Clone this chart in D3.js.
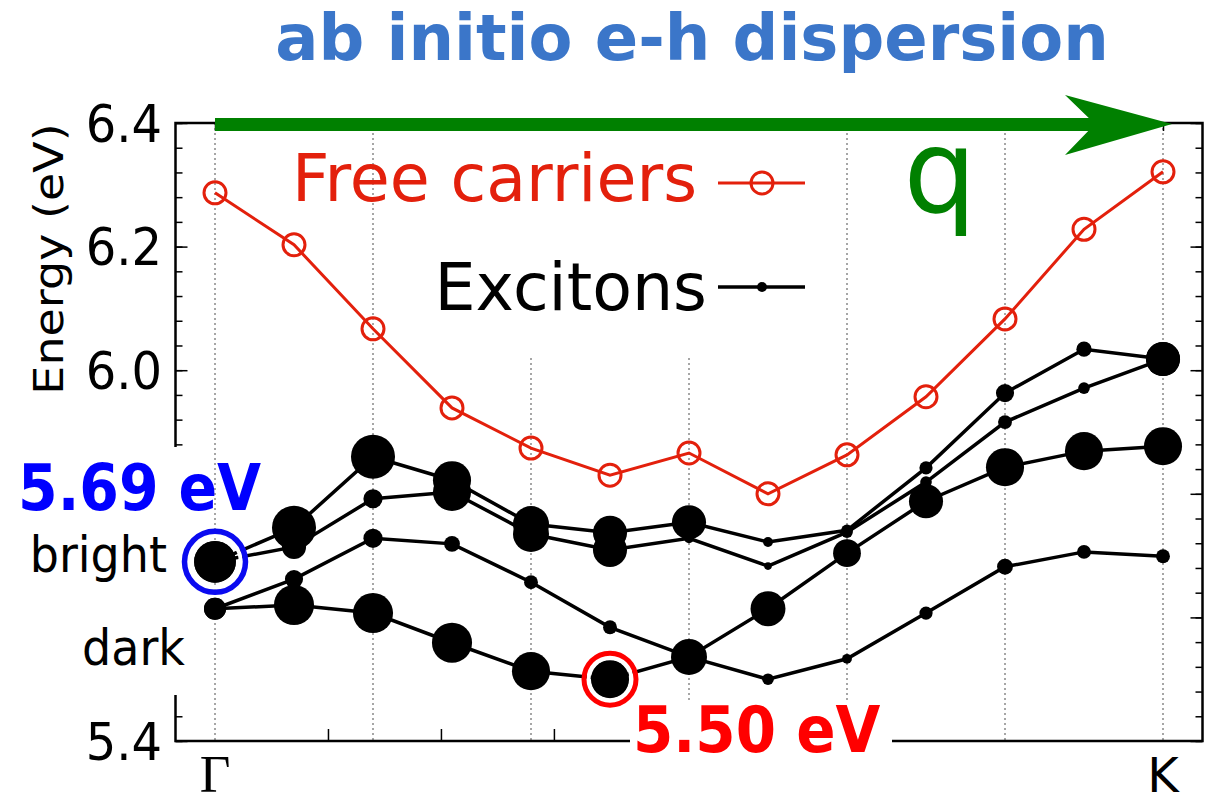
<!DOCTYPE html>
<html>
<head>
<meta charset="utf-8">
<script src="https://cdn.jsdelivr.net/npm/d3@7"></script>
<style>
  body { margin: 0; background: #fff; }
  svg { display: block; }
  text { font-family: "DejaVu Sans", sans-serif; }
</style>
</head>
<body>
<svg id="chart" width="1207" height="804"></svg>
<script>
// Momentum points along Γ → K (index of the q-point)
const qPoints = d3.range(13);

// Free electron-hole pair energies (eV)
const freeCarriers = [6.287, 6.203, 6.067, 5.939, 5.874, 5.830, 5.866, 5.800, 5.863, 5.957, 6.083, 6.228, 6.321];

// Exciton bands (eV) and their relative oscillator strengths (0..1)
const band1 = [5.69, 5.745, 5.860, 5.822, 5.751, 5.737, 5.754, 5.722, 5.741, 5.842, 5.963, 6.034, 6.018];
const band1Strength = [0.90, 1.00, 1.00, 0.75, 0.67, 0.60, 0.60, 0.05, 0.07, 0.09, 0.17, 0.12, 0.60];
const band2 = [5.69, 5.714, 5.792, 5.803, 5.735, 5.709, 5.728, 5.683, 5.738, 5.819, 5.916, 5.971, 6.018];
const band2Strength = [0.90, 0.30, 0.19, 0.75, 0.67, 0.60, 0.05, 0.03, 0.07, 0.07, 0.10, 0.07, 0.60];
const band3 = [5.614, 5.662, 5.728, 5.719, 5.657, 5.584, 5.536, 5.500, 5.533, 5.607, 5.682, 5.706, 5.699];
const band3Strength = [0.25, 0.17, 0.19, 0.13, 0.10, 0.10, 0.05, 0.07, 0.05, 0.09, 0.13, 0.10, 0.10];
const band4 = [5.614, 5.620, 5.607, 5.559, 5.513, 5.50, 5.536, 5.614, 5.704, 5.788, 5.843, 5.869, 5.877];
const band4Strength = [0.25, 0.83, 0.83, 0.83, 0.75, 0.75, 0.67, 0.63, 0.40, 0.60, 0.75, 0.75, 0.75];

// Axis ticks
const yMajorTicks = [5.4, 5.6, 5.8, 6.0, 6.2, 6.4];
const yTickLabels = [6.4, 6.2, 6.0, 5.4];
const yMinorTicks = d3.range(5.4, 6.401, 0.04).map(v => +v.toFixed(2));
const gridPoints = [0, 2, 4, 6, 8, 10, 12];
const bottomTicks = [1.43, 2.86, 4.29];
const xTickLabels = [{ q: 0, label: "Γ" }, { q: 12, label: "K" }];

// Highlighted states
const brightState = { q: 0, energy: band1[0], label: "5.69 eV" };
const darkState = { q: 5, energy: band4[5], label: "5.50 eV" };

const svg = d3.select("#chart");

const x = d3.scaleLinear().domain([-0.5, 12.5]).range([175.5, 1202.5]);
const y = d3.scaleLinear().domain([5.4, 6.4]).range([741, 123]);
const r = d3.scaleSqrt().domain([0, 1]).range([0, 22]);

const [x0, x1] = x.range();
const [yb, yt] = y.range();
const legendBottom = 358;
const legendLeft = 450, legendRight = 815;

// Dotted vertical grid (interrupted under the legend)
svg.append("g").selectAll("line").data(gridPoints).join("line")
  .attr("x1", d => x(d)).attr("x2", d => x(d))
  .attr("y1", d => (x(d) > legendLeft && x(d) < legendRight) ? legendBottom : yt)
  .attr("y2", yb)
  .attr("stroke", "#777").attr("stroke-width", 1.3)
  .attr("stroke-dasharray", "2,3");

// Axes: left / right with inward ticks
function yAxis(gen, size, tx) {
  const g = svg.append("g").attr("transform", `translate(${tx},0)`)
    .call(gen.tickSize(size).tickFormat(""));
  g.select(".domain").remove();
  g.selectAll(".tick line").attr("stroke", "#000").attr("stroke-width", 1.5);
  return g;
}
yAxis(d3.axisLeft(y).tickValues(yMinorTicks), -7, x0);
yAxis(d3.axisLeft(y).tickValues(yMajorTicks), -12, x0);
yAxis(d3.axisRight(y).tickValues(yMinorTicks), -7, x1);
yAxis(d3.axisRight(y).tickValues(yMajorTicks), -12, x1);

// Top ticks at the grid points, bottom ticks along q
const topAx = svg.append("g").attr("transform", `translate(0,${yt})`)
  .call(d3.axisTop(x).tickValues(gridPoints).tickSize(-8).tickFormat(""));
topAx.select(".domain").remove();
topAx.selectAll(".tick line").attr("stroke", "#000").attr("stroke-width", 1.5);
const botAx = svg.append("g").attr("transform", `translate(0,${yb})`)
  .call(d3.axisBottom(x).tickValues(bottomTicks).tickSize(-12).tickFormat(""));
botAx.select(".domain").remove();
botAx.selectAll(".tick line").attr("stroke", "#000").attr("stroke-width", 1.5);

// Frame
svg.append("rect").attr("x", x0).attr("y", yt).attr("width", x1 - x0).attr("height", yb - yt)
  .attr("fill", "none").attr("stroke", "#000").attr("stroke-width", 2.5);

// Masks where labels sit over the axes
svg.append("rect").attr("x", 150).attr("y", 447).attr("width", 40).attr("height", 248).attr("fill", "#fff");
svg.append("rect").attr("x", 630).attr("y", 700).attr("width", 262).attr("height", 66).attr("fill", "#fff");

// Tick labels
svg.append("g").selectAll("text").data(yTickLabels).join("text")
  .attr("transform", d => `translate(162,${y(d)}) scale(1,1.08)`)
  .attr("text-anchor", "end").attr("dy", "0.36em")
  .attr("font-size", 48).text(d => d.toFixed(1));

svg.append("g").selectAll("text").data(xTickLabels).join("text")
  .attr("x", d => x(d.q)).attr("y", 792).attr("text-anchor", "middle")
  .attr("font-size", d => d.label === "Γ" ? 53 : 48)
  .style("font-family", d => d.label === "Γ" ? "'Liberation Serif', serif" : null)
  .text(d => d.label);

svg.append("text")
  .attr("transform", "translate(63,259) rotate(-90) scale(1.15,1)")
  .attr("text-anchor", "middle").attr("font-size", 40).text("Energy (eV)");

// Free carriers
const line = d3.line().x((d, i) => x(qPoints[i])).y(d => y(d));
const red = "#e3200c";
svg.append("path").datum(freeCarriers).attr("d", line)
  .attr("fill", "none").attr("stroke", red).attr("stroke-width", 3);
svg.append("g").selectAll("circle").data(freeCarriers).join("circle")
  .attr("cx", (d, i) => x(qPoints[i])).attr("cy", d => y(d)).attr("r", 11)
  .attr("fill", "none").attr("stroke", red).attr("stroke-width", 3);

// Exciton bands
const bands = [
  { e: band1, s: band1Strength },
  { e: band2, s: band2Strength },
  { e: band3, s: band3Strength },
  { e: band4, s: band4Strength }
];
bands.forEach(b => {
  svg.append("path").datum(b.e).attr("d", line)
    .attr("fill", "none").attr("stroke", "#000").attr("stroke-width", 3.5);
});
bands.forEach(b => {
  svg.append("g").selectAll("circle").data(b.e).join("circle")
    .attr("cx", (d, i) => x(qPoints[i])).attr("cy", d => y(d))
    .attr("r", (d, i) => r(b.s[i])).attr("fill", "#000");
});

// Highlight rings
function ring(state, color, rad, width) {
  const cx = x(state.q), cy = y(state.energy);
  svg.append("circle").attr("cx", cx).attr("cy", cy)
    .attr("r", rad - width / 2 - 2).attr("fill", "none").attr("stroke", "#fff").attr("stroke-width", 4);
  svg.append("circle").attr("cx", cx).attr("cy", cy)
    .attr("r", rad).attr("fill", "none").attr("stroke", color).attr("stroke-width", width);
}
ring(brightState, "#0a0af0", 30.5, 5.5);
ring(darkState, "#ff0000", 26, 5);

// Annotations
svg.append("text").attr("transform", "translate(18,510) scale(1,1.12)")
  .attr("font-size", 57).attr("font-weight", "bold").attr("fill", "#0000ff")
  .text(brightState.label);
svg.append("text").attr("transform", "translate(167,572) scale(1,1.08)")
  .attr("text-anchor", "end").attr("font-size", 46).text("bright");
svg.append("text").attr("transform", "translate(185,665) scale(1,1.08)")
  .attr("text-anchor", "end").attr("font-size", 46).text("dark");
svg.append("text").attr("transform", "translate(633,752) scale(1,1.12)")
  .attr("font-size", 58).attr("font-weight", "bold").attr("fill", "#ff0000")
  .text(darkState.label);

// Title
svg.append("text").attr("x", 692).attr("y", 60).attr("text-anchor", "middle")
  .attr("font-size", 64).attr("font-weight", "bold").attr("fill", "#3b76c9")
  .text("ab initio e-h dispersion");

// Legend
svg.append("text").attr("x", 697).attr("y", 201)
  .attr("text-anchor", "end").attr("font-size", 65).attr("fill", red).text("Free carriers");
svg.append("line").attr("x1", 718).attr("x2", 805).attr("y1", 183).attr("y2", 183)
  .attr("stroke", red).attr("stroke-width", 3);
svg.append("circle").attr("cx", 762).attr("cy", 183).attr("r", 11)
  .attr("fill", "none").attr("stroke", red).attr("stroke-width", 3);
svg.append("text").attr("x", 707).attr("y", 310)
  .attr("text-anchor", "end").attr("font-size", 65).attr("fill", "#000").text("Excitons");
svg.append("line").attr("x1", 718).attr("x2", 805).attr("y1", 287).attr("y2", 287)
  .attr("stroke", "#000").attr("stroke-width", 3.5);
svg.append("circle").attr("cx", 762).attr("cy", 287).attr("r", 5).attr("fill", "#000");

// q arrow
const green = "#008000";
svg.append("rect").attr("x", x(0)).attr("y", 118).attr("width", 1095 - x(0)).attr("height", 13).attr("fill", green);
svg.append("path").attr("d", "M1172,124 L1065,95 L1095,124 L1065,155 Z").attr("fill", green);
svg.append("text").attr("x", 940).attr("y", 212).attr("text-anchor", "middle")
  .attr("font-size", 115).attr("fill", green).text("q");
</script>
</body>
</html>
